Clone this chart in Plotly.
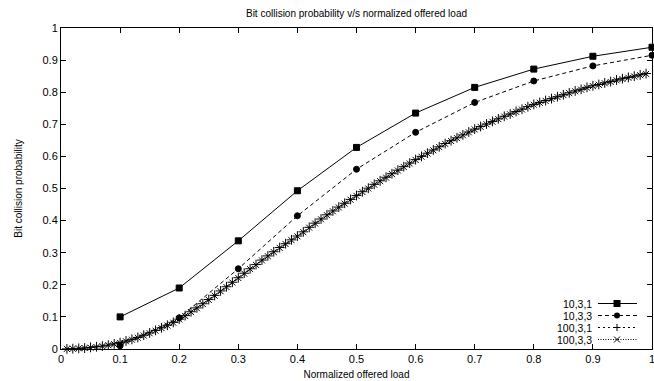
import plotly.graph_objects as go

# ---- data ----
x10 = [0.1, 0.2, 0.3, 0.4, 0.5, 0.6, 0.7, 0.8, 0.9, 1.0]
y10_31 = [0.100, 0.190, 0.337, 0.493, 0.628, 0.735, 0.815, 0.872, 0.912, 0.940]
y10_33 = [0.010, 0.097, 0.250, 0.415, 0.560, 0.675, 0.768, 0.835, 0.882, 0.915]

x100 = [0.01, 0.02, 0.03, 0.04, 0.05, 0.06, 0.07, 0.08, 0.09, 0.10,
        0.11, 0.12, 0.13, 0.14, 0.15, 0.16, 0.17, 0.18, 0.19, 0.20,
        0.21, 0.22, 0.23, 0.24, 0.25, 0.26, 0.27, 0.28, 0.29, 0.30,
        0.31, 0.32, 0.33, 0.34, 0.35, 0.36, 0.37, 0.38, 0.39, 0.40,
        0.41, 0.42, 0.43, 0.44, 0.45, 0.46, 0.47, 0.48, 0.49, 0.50,
        0.51, 0.52, 0.53, 0.54, 0.55, 0.56, 0.57, 0.58, 0.59, 0.60,
        0.61, 0.62, 0.63, 0.64, 0.65, 0.66, 0.67, 0.68, 0.69, 0.70,
        0.71, 0.72, 0.73, 0.74, 0.75, 0.76, 0.77, 0.78, 0.79, 0.80,
        0.81, 0.82, 0.83, 0.84, 0.85, 0.86, 0.87, 0.88, 0.89, 0.90,
        0.91, 0.92, 0.93, 0.94, 0.95, 0.96, 0.97, 0.98, 0.99]
y100_31 = [0.0005, 0.001, 0.002, 0.003, 0.005, 0.007, 0.009, 0.012, 0.016, 0.020,
           0.025, 0.030, 0.036, 0.043, 0.050, 0.058, 0.066, 0.074, 0.083, 0.093,
           0.104, 0.116, 0.128, 0.141, 0.154, 0.167, 0.181, 0.194, 0.208, 0.222,
           0.236, 0.250, 0.263, 0.277, 0.290, 0.303, 0.316, 0.328, 0.340, 0.352,
           0.365, 0.379, 0.392, 0.405, 0.418, 0.430, 0.442, 0.454, 0.466, 0.478,
           0.490, 0.501, 0.513, 0.524, 0.535, 0.546, 0.557, 0.568, 0.579, 0.590,
           0.600, 0.610, 0.620, 0.630, 0.640, 0.649, 0.658, 0.667, 0.676, 0.685,
           0.693, 0.701, 0.709, 0.717, 0.725, 0.732, 0.740, 0.747, 0.755, 0.762,
           0.768, 0.774, 0.780, 0.786, 0.792, 0.798, 0.804, 0.809, 0.815, 0.820,
           0.824, 0.829, 0.833, 0.838, 0.842, 0.846, 0.850, 0.854, 0.858]
y100_33 = [0.0004, 0.001, 0.002, 0.003, 0.004, 0.006, 0.009, 0.012, 0.015, 0.019,
           0.024, 0.029, 0.035, 0.042, 0.049, 0.057, 0.065, 0.073, 0.082, 0.092,
           0.103, 0.115, 0.127, 0.140, 0.153, 0.166, 0.180, 0.193, 0.207, 0.221,
           0.235, 0.249, 0.262, 0.276, 0.289, 0.302, 0.315, 0.327, 0.339, 0.351,
           0.364, 0.378, 0.391, 0.404, 0.417, 0.429, 0.441, 0.453, 0.465, 0.477,
           0.489, 0.500, 0.512, 0.523, 0.534, 0.545, 0.556, 0.567, 0.578, 0.589,
           0.599, 0.609, 0.619, 0.629, 0.639, 0.648, 0.657, 0.666, 0.675, 0.684,
           0.692, 0.700, 0.708, 0.716, 0.724, 0.731, 0.739, 0.746, 0.754, 0.761,
           0.767, 0.773, 0.779, 0.785, 0.791, 0.797, 0.803, 0.808, 0.814, 0.819,
           0.823, 0.828, 0.832, 0.837, 0.841, 0.845, 0.849, 0.853, 0.857]

series_names = ["10,3,1", "10,3,3", "100,3,1", "100,3,3"]
tick_vals = [0, 0.1, 0.2, 0.3, 0.4, 0.5, 0.6, 0.7, 0.8, 0.9, 1]
tick_text = ["0", "0.1", "0.2", "0.3", "0.4", "0.5", "0.6", "0.7", "0.8", "0.9", "1"]

FONT = "Liberation Sans, Arial, Helvetica, sans-serif"

fig = go.Figure()
styles = [
    dict(dash="solid", symbol="square", size=6),
    dict(dash="4px,3px", symbol="circle", size=6),
    dict(dash="2px,3px", symbol="cross-thin", size=7),
    dict(dash="1px,1.5px", symbol="x-thin", size=6),
]
data = [(x10, y10_31), (x10, y10_33), (x100, y100_31), (x100, y100_33)]
for (xs, ys), st, nm in zip(data, styles, series_names):
    fig.add_trace(go.Scatter(
        x=xs, y=ys, name=nm, mode="lines+markers",
        line=dict(color="black", width=1, dash=st["dash"]),
        marker=dict(symbol=st["symbol"], size=st["size"], color="black",
                    line=dict(color="black", width=1)),
        showlegend=False, cliponaxis=False))

# ---- manual gnuplot-style legend (text left, sample right) ----
shapes = []
annotations = []
row_px = [303.5, 315.5, 327.5, 339.5]          # pixel rows of legend entries
row_y = [(349 - p) / 321 for p in row_px]
lx0, lx1, lxm, ltx = 0.9086, 0.9746, 0.9408, 0.900
for i, (nm, st) in enumerate(zip(series_names, styles)):
    yy = row_y[i]
    shapes.append(dict(type="line", xref="paper", yref="paper", x0=lx0, x1=lx1, y0=yy, y1=yy,
                       line=dict(color="black", width=1, dash=st["dash"])))
    annotations.append(dict(text=nm, xref="paper", yref="paper", x=ltx, y=yy,
                            xanchor="right", yanchor="middle", showarrow=False,
                            borderpad=0,
                            font=dict(family=FONT, size=10.5, color="black")))
    if st["symbol"] == "square":
        shapes.append(dict(type="rect", xref="paper", yref="paper", xsizemode="pixel", ysizemode="pixel",
                           xanchor=lxm, yanchor=yy, x0=-3.5, x1=3.5, y0=-3.5, y1=3.5,
                           fillcolor="black", line=dict(width=0)))
    elif st["symbol"] == "circle":
        shapes.append(dict(type="circle", xref="paper", yref="paper", xsizemode="pixel", ysizemode="pixel",
                           xanchor=lxm, yanchor=yy, x0=-3, x1=3, y0=-3, y1=3,
                           fillcolor="black", line=dict(width=0)))
    elif st["symbol"] == "cross-thin":
        shapes.append(dict(type="line", xref="paper", yref="paper", xsizemode="pixel", ysizemode="pixel",
                           xanchor=lxm, yanchor=yy, x0=-3.5, x1=3.5, y0=0, y1=0, line=dict(color="black", width=1)))
        shapes.append(dict(type="line", xref="paper", yref="paper", xsizemode="pixel", ysizemode="pixel",
                           xanchor=lxm, yanchor=yy, x0=0, x1=0, y0=-3.5, y1=3.5, line=dict(color="black", width=1)))
    else:
        shapes.append(dict(type="line", xref="paper", yref="paper", xsizemode="pixel", ysizemode="pixel",
                           xanchor=lxm, yanchor=yy, x0=-3, x1=3, y0=-3, y1=3, line=dict(color="black", width=1)))
        shapes.append(dict(type="line", xref="paper", yref="paper", xsizemode="pixel", ysizemode="pixel",
                           xanchor=lxm, yanchor=yy, x0=-3, x1=3, y0=3, y1=-3, line=dict(color="black", width=1)))

axis_common = dict(
    range=[0, 1], tickvals=tick_vals, ticktext=tick_text,
    ticks="inside", ticklen=5, tickwidth=1, tickcolor="black",
    showline=True, linecolor="black", linewidth=1, mirror="ticks",
    showgrid=False, zeroline=False, automargin=False,
    ticklabeloverflow="allow",
    tickfont=dict(family=FONT, size=11, color="black"),
)

fig.update_layout(
    width=654, height=381,
    margin=dict(l=61, r=2, t=28, b=32),
    paper_bgcolor="white", plot_bgcolor="white",
    title=dict(text="Bit collision probability v/s normalized offered load",
               x=0.5, xref="paper", y=1 - 13 / 381, yref="container",
               xanchor="center", yanchor="middle",
               font=dict(family=FONT, size=10, color="black")),
    xaxis=dict(**axis_common,
               title=dict(text="Normalized offered load", standoff=6,
                          font=dict(family=FONT, size=10, color="black"))),
    yaxis=dict(**axis_common,
               title=dict(text="Bit collision probability", standoff=18,
                          font=dict(family=FONT, size=10, color="black"))),
    shapes=shapes, annotations=annotations, showlegend=False,
)

fig.write_html("out.html")
